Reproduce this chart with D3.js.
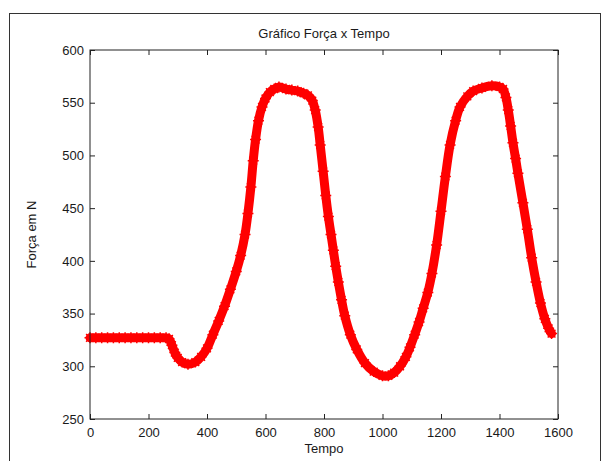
<!DOCTYPE html>
<html>
<head>
<meta charset="utf-8">
<script src="https://cdn.jsdelivr.net/npm/d3@7"></script>
<style>
  body { margin: 0; background: #fff; }
  text { font-family: "Liberation Sans", Arial, sans-serif; fill: #1a1a1a; }
</style>
</head>
<body>
<script>
// values
var tempo = [0, 20, 40, 60, 80, 100, 120, 140, 160, 180, 200, 220, 240, 260, 270, 280, 290, 300, 315, 335,
  360, 380, 400, 420, 440, 460, 480, 500, 515, 530, 540, 550, 558, 566, 576, 588, 600, 615, 630, 646,
  670, 690, 710, 730, 745, 760, 770, 780, 787, 797, 806, 815, 824, 832, 840, 849, 860, 871, 890, 912,
  940, 970, 1000, 1020, 1040, 1060, 1080, 1094, 1110, 1125, 1139, 1155, 1169, 1185, 1200, 1215, 1231, 1250, 1265, 1290,
  1310, 1340, 1374, 1400, 1412, 1422, 1430, 1438, 1446, 1455, 1463, 1480, 1495, 1510, 1525, 1540, 1555, 1568, 1578];
var forca = [327, 327, 327, 327, 327, 327, 327, 327, 327, 327, 327, 327, 327, 327, 326, 320, 313, 308, 304, 302,
  304, 309, 317, 330, 343, 357, 373, 390, 405, 425, 445, 470, 495, 515, 533, 546, 554, 560, 563, 565,
  563, 562, 561, 559, 557, 552, 543, 527, 510, 485, 462, 442, 425, 410, 395, 380, 363, 348, 330, 316,
  303, 295, 291, 291, 294, 300, 309, 318, 330, 342, 355, 370, 388, 415, 447, 480, 510, 533, 546, 556,
  561, 564, 566, 565, 563, 555, 543, 528, 512, 497, 483, 455, 430, 403, 380, 360, 345, 336, 331];
var xTicks = [0, 200, 400, 600, 800, 1000, 1200, 1400, 1600];
var yTicks = [250, 300, 350, 400, 450, 500, 550, 600];

var width = 605;
var height = 461;
var margin = {left: 90, right: 47, top: 50, bottom: 42};

var svg = d3.select('body').append('svg')
  .attr('width', width)
  .attr('height', height);

// outer figure frame
svg.append('rect')
  .attr('x', 9.5).attr('y', 13.5)
  .attr('width', 591).attr('height', 470)
  .attr('fill', 'none')
  .attr('stroke', '#333');

var x = d3.scaleLinear().domain([0, 1600]).range([margin.left, width - margin.right]);
var y = d3.scaleLinear().domain([250, 600]).range([height - margin.bottom, margin.top]);

var data = tempo.map(function(t, i){ return {t: t, f: forca[i]}; });

// thick band under the markers
svg.append('path')
  .datum(data)
  .attr('fill', 'none')
  .attr('stroke', '#ff0000')
  .attr('stroke-width', 9)
  .attr('stroke-linejoin', 'round')
  .attr('stroke-linecap', 'round')
  .attr('d', d3.line().x(function(d){ return x(d.t); }).y(function(d){ return y(d.f); }).curve(d3.curveCatmullRom));

// '*' markers
var star = function(r){
  var a = r * 0.707;
  return 'M' + (-r) + ',0L' + r + ',0M0,' + (-r) + 'L0,' + r +
    'M' + (-a) + ',' + (-a) + 'L' + a + ',' + a + 'M' + (-a) + ',' + a + 'L' + a + ',' + (-a);
};
svg.selectAll('path.mk').data(data)
  .enter()
  .append('path')
  .attr('class', 'mk')
  .attr('transform', function(d){ return 'translate(' + x(d.t) + ',' + y(d.f) + ')'; })
  .attr('d', star(5.5))
  .attr('stroke', '#ff0000')
  .attr('stroke-width', 1.5)
  .attr('fill', 'none');

// axes box with inward ticks on all sides
var x0 = x.range()[0], x1 = x.range()[1], y0 = y.range()[0], y1 = y.range()[1];
svg.append('rect')
  .attr('x', x0).attr('y', y1)
  .attr('width', x1 - x0).attr('height', y0 - y1)
  .attr('fill', 'none').attr('stroke', '#222');

var fmt = d3.format('d');
svg.append('g').attr('transform', 'translate(0,' + y0 + ')')
  .call(d3.axisBottom(x).tickValues(xTicks).tickSize(-5).tickPadding(9).tickFormat(fmt))
  .call(function(g){ g.select('.domain').remove(); });
svg.append('g').attr('transform', 'translate(0,' + y1 + ')')
  .call(d3.axisTop(x).tickValues(xTicks).tickSize(-5).tickFormat(''))
  .call(function(g){ g.select('.domain').remove(); });
svg.append('g').attr('transform', 'translate(' + x0 + ',0)')
  .call(d3.axisLeft(y).tickValues(yTicks).tickSize(-5).tickPadding(6).tickFormat(fmt))
  .call(function(g){ g.select('.domain').remove(); });
svg.append('g').attr('transform', 'translate(' + x1 + ',0)')
  .call(d3.axisRight(y).tickValues(yTicks).tickSize(-5).tickFormat(''))
  .call(function(g){ g.select('.domain').remove(); });

svg.selectAll('.tick line').attr('stroke', '#222');
svg.selectAll('.tick text').attr('font-size', 13).attr('fill', '#1a1a1a')
  .style('font-family', '"Liberation Sans", Arial, sans-serif');

// titles
svg.append('text')
  .attr('x', (x0 + x1) / 2).attr('y', 38)
  .attr('text-anchor', 'middle').attr('font-size', 13)
  .text('Gráfico Força x Tempo');
svg.append('text')
  .attr('x', (x0 + x1) / 2).attr('y', 453)
  .attr('text-anchor', 'middle').attr('font-size', 13)
  .text('Tempo');
svg.append('text')
  .attr('transform', 'translate(36,' + ((y0 + y1) / 2) + ') rotate(-90)')
  .attr('text-anchor', 'middle').attr('font-size', 13)
  .text('Força em N');
</script>
</body>
</html>
